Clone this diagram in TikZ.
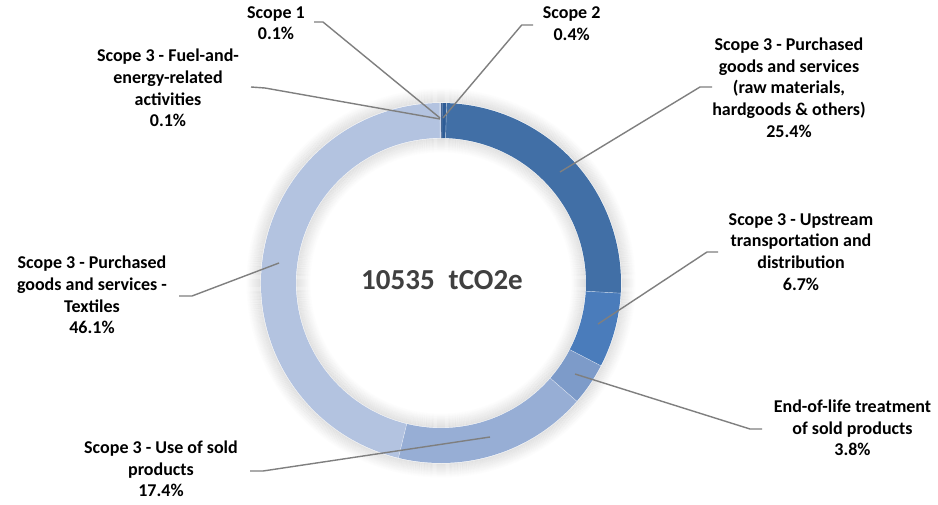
\documentclass[tikz,border=0pt]{standalone}
\usepackage{fontspec}
\setmainfont{Carlito}
\definecolor{cS1}{HTML}{23487D}
\definecolor{cS2}{HTML}{2E5C96}
\definecolor{cPur}{HTML}{416FA6}
\definecolor{cUp}{HTML}{4A7CBB}
\definecolor{cEol}{HTML}{7D9BC9}
\definecolor{cUse}{HTML}{97AED5}
\definecolor{cTex}{HTML}{B3C3E0}
\definecolor{cFuel}{HTML}{C8D3EA}
\definecolor{cLead}{HTML}{7F7F7F}
\definecolor{cTot}{HTML}{404040}
\newcommand\ringseg[3]{\fill[#3] (C) ++(#1:180) arc[start angle=#1, end angle=#2, radius=180] -- ++({#2+180}:35) arc[start angle=#2, end angle=#1, radius=145] -- cycle;}
\begin{document}
\begin{tikzpicture}[x=1pt,y=-1pt,
  lbl/.style={font=\bfseries\fontsize{18}{21.7}\selectfont, align=center, anchor=north, inner sep=0pt, execute at begin node=\rule{0pt}{13.5pt}},
  leader/.style={draw=cLead, line width=1.4pt, line join=round}]
\useasboundingbox (0,0) rectangle (938,504);
\fill[white] (0,0) rectangle (938,504);
\coordinate (C) at (441,283);
% soft shadow
\foreach \i in {1,...,14} {
  \pgfmathsetmacro\op{0.10*(1-\i/15)}
  \draw[black, opacity=\op, line width=1.1pt] (C) circle[radius={180+\i}];
  \draw[black, opacity=\op, line width=1.1pt] (C) circle[radius={145-\i}];
}
% ring segments (clockwise from top)
\ringseg{-90}{-89.64}{cS1}
\ringseg{-89.64}{-88.2}{cS2}
\ringseg{-88.2}{3.24}{cPur}
\ringseg{3.24}{27.36}{cUp}
\ringseg{27.36}{41.04}{cEol}
\ringseg{41.04}{103.68}{cUse}
\ringseg{103.68}{269.64}{cTex}
\ringseg{269.64}{270}{cFuel}
\foreach \a in {-89.64,-88.2,3.24,27.36,41.04,103.68,269.64} {
  \draw[white, line width=0.4pt, opacity=0.6] (C) ++(\a:145) -- ++(\a:35);
}
% centre total
\node[font=\bfseries\fontsize{29}{32}\selectfont, text=cTot, inner sep=0pt] (total) at (442,280) {10535\hspace{14pt}tCO2e};
% labels
\node[lbl] (l1) at (276,6) {Scope 1\\0.1\%};
\node[lbl] (l2) at (571.7,6.3) {Scope 2\\0.4\%};
\node[lbl] (lf) at (168,49) {Scope 3 - Fuel-and-\\energy-related\\activities\\0.1\%};
\node[lbl] (lp) at (789,37.5) {Scope 3 - Purchased\\goods and services\\(raw materials,\\hardgoods \& others)\\25.4\%};
\node[lbl] (lu) at (801,213) {Scope 3 - Upstream\\transportation and\\distribution\\6.7\%};
\node[lbl] (le) at (852.5,399.5) {End-of-life treatment\\of sold products\\3.8\%};
\node[lbl] (lt) at (92,256) {Scope 3 - Purchased\\goods and services -\\Textiles\\46.1\%};
\node[lbl] (ls) at (161,440.5) {Scope 3 - Use of sold\\products\\17.4\%};
% leader line coordinates
\coordinate (a1) at (314,22);  \coordinate (k1) at (323,22);  \coordinate (e1) at (440,118);
\coordinate (a2) at (533,25);  \coordinate (k2) at (521.7,25); \coordinate (e2) at (443,118);
\coordinate (af) at (251,87);  \coordinate (kf) at (265,88);  \coordinate (ef) at (440,119);
\coordinate (ap) at (712,87);  \coordinate (kp) at (700,87);  \coordinate (ep) at (560,172);
\coordinate (au) at (718,252); \coordinate (ku) at (707,252); \coordinate (eu) at (598,324);
\coordinate (ae) at (762,429); \coordinate (ke) at (750,429); \coordinate (ee) at (575,374);
\coordinate (at) at (179,296); \coordinate (kt) at (192,296); \coordinate (et) at (279,263);
\coordinate (as) at (250,471); \coordinate (ks) at (263,471); \coordinate (es) at (490,437);
\draw[leader] (a1) -- (k1) -- (e1);
\draw[leader] (a2) -- (k2) -- (e2);
\draw[leader] (af) -- (kf) -- (ef);
\draw[leader] (ap) -- (kp) -- (ep);
\draw[leader] (au) -- (ku) -- (eu);
\draw[leader] (ae) -- (ke) -- (ee);
\draw[leader] (at) -- (kt) -- (et);
\draw[leader] (as) -- (ks) -- (es);
\end{tikzpicture}
\end{document}
